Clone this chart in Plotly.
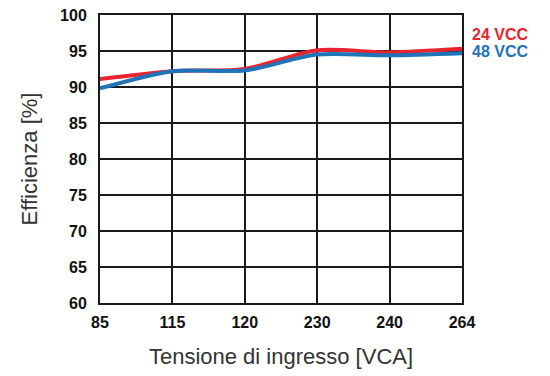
import plotly.graph_objects as go

# input voltage categories (VAC)
tensione = ["85", "115", "120", "230", "240", "264"]
# efficiency readings (%)
eff_24vcc = [91.1, 92.2, 92.5, 95.1, 94.8, 95.3]
eff_48vcc = [89.8, 92.2, 92.3, 94.5, 94.4, 94.7]

RED = "#e8252f"
BLUE = "#1f73b8"
FONT = "Liberation Sans, Arial, sans-serif"

fig = go.Figure()
fig.add_trace(go.Scatter(x=tensione, y=eff_24vcc, name="24 VCC", mode="lines",
                         line=dict(color=RED, width=4, shape="spline", smoothing=0.8)))
fig.add_trace(go.Scatter(x=tensione, y=eff_48vcc, name="48 VCC", mode="lines",
                         line=dict(color=BLUE, width=4, shape="spline", smoothing=0.8)))

# series labels at the right edge instead of a legend
fig.add_annotation(x=1, xref="paper", y=97.3, yref="y", text="<b>24 VCC</b>",
                   showarrow=False, xanchor="left", xshift=8,
                   font=dict(family=FONT, size=16, color=RED))
fig.add_annotation(x=1, xref="paper", y=95.0, yref="y", text="<b>48 VCC</b>",
                   showarrow=False, xanchor="left", xshift=8,
                   font=dict(family=FONT, size=16, color=BLUE))

fig.update_xaxes(
    type="category", range=[0, 5], automargin=False,
    showgrid=True, gridcolor="#1a1a1a", gridwidth=1.5,
    showline=True, linecolor="#1a1a1a", linewidth=2, mirror=True,
    tickfont=dict(family=FONT, size=16, color="#111"),
    tickprefix="<b>", ticksuffix="</b>",
    ticks="", ticklabelstandoff=4,
    title=dict(text="Tensione di ingresso [VCA]", standoff=18,
               font=dict(family=FONT, size=22, color="#333")),
)
fig.update_yaxes(
    range=[60, 100], dtick=5, automargin=False,
    showgrid=True, gridcolor="#1a1a1a", gridwidth=1.5,
    showline=True, linecolor="#1a1a1a", linewidth=2, mirror=True,
    tickfont=dict(family=FONT, size=16, color="#111"),
    tickprefix="<b>", ticksuffix="</b>",
    ticks="", ticklabelstandoff=8,
    title=dict(text="Efficienza [%]", standoff=16,
               font=dict(family=FONT, size=22, color="#333")),
)
fig.update_layout(
    width=550, height=376,
    margin=dict(l=100, r=88, t=15, b=73),
    plot_bgcolor="white", paper_bgcolor="white",
    showlegend=False,
)

# drop the default body margin so the figure sits at the window origin
fig.write_html("out.html", config={"displayModeBar": False},
               post_script="document.body.style.margin='0px';")
